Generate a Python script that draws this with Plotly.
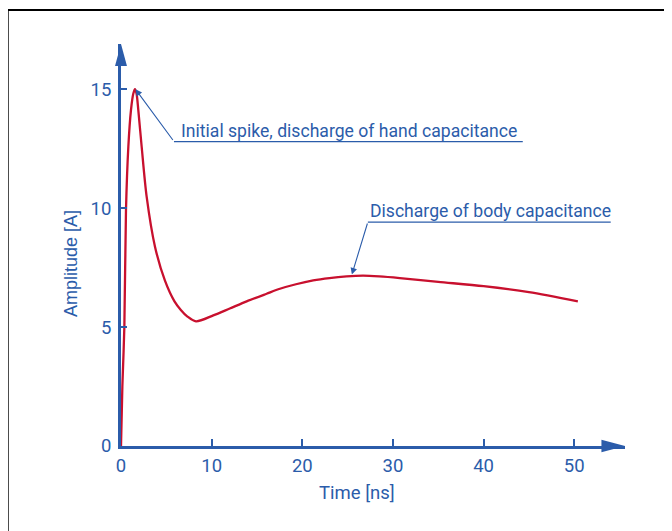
import plotly.graph_objects as go

# ---- data ----
time_ns = [0, 0.15, 0.37, 0.55, 0.81, 1.1, 1.36, 1.54, 1.72, 1.91, 2.28, 2.83, 3.75, 4.85, 5.9,
           6.6, 7.3, 8.27, 10.18, 12.0, 13.86, 16.06, 17.53, 19.3, 21.2, 23.0, 24.88, 26.7, 28.5,
           30.76, 35, 40, 45, 50.4]
amplitude_a = [0, 2.5, 5.0, 9.92, 12.58, 14.12, 14.82, 15.0, 14.8, 14.12, 12.58, 10.48, 8.38, 6.95,
               6.08, 5.72, 5.45, 5.24, 5.49, 5.78, 6.08, 6.4, 6.61, 6.8, 6.96, 7.06, 7.13, 7.16,
               7.13, 7.06, 6.9, 6.72, 6.47, 6.08]
x_ticks = [0, 10, 20, 30, 40, 50]
y_ticks = [0, 5, 10, 15]
label_spike = "Initial spike, discharge of hand capacitance"
label_body = "Discharge of body capacitance"
x_title = "Time [ns]"
y_title = "Amplitude [A]"

BLUE = "#2b5caa"
RED = "#c8102e"
NARROW = "Roboto, Liberation Sans Narrow, DejaVu Sans Condensed, sans-serif"
REG = "Liberation Sans, Arial, sans-serif"

XMAX = 55.6
YMAX = 16.9
PX_X = 9.07    # px per ns (reference)
PX_Y = 23.79   # px per A (reference)
X0_PX = 121    # reference pixel of x=0
Y0_PX = 446    # reference pixel of y=0


def dx(px):
    return (px - X0_PX) / PX_X


def dy(py):
    return (Y0_PX - py) / PX_Y


fig = go.Figure()
fig.add_trace(go.Scatter(x=time_ns, y=amplitude_a, mode="lines",
                         line=dict(color=RED, width=2.3, shape="spline", smoothing=0.8),
                         hoverinfo="skip", showlegend=False))

# the page body has an 8px margin -> shift the figure margins by that amount
fig.update_layout(
    width=672, height=531,
    margin=dict(l=113, r=55, t=36, b=93),
    paper_bgcolor="white", plot_bgcolor="white",
    showlegend=False,
    xaxis=dict(range=[0, XMAX], tickvals=x_ticks, ticktext=[str(v) for v in x_ticks],
               showgrid=False, zeroline=False, showline=True, linecolor=BLUE, linewidth=3,
               ticks="inside", ticklen=7, tickwidth=2, tickcolor=BLUE,
               tickfont=dict(family=NARROW, size=18.5, color=BLUE), ticklabelstandoff=1),
    yaxis=dict(range=[0, YMAX], tickvals=y_ticks, ticktext=[str(v) for v in y_ticks],
               showgrid=False, zeroline=False, showline=True, linecolor=BLUE, linewidth=3,
               ticks="inside", ticklen=6, tickwidth=2, tickcolor=BLUE,
               tickfont=dict(family=NARROW, size=18.5, color=BLUE), ticklabelstandoff=3),
)

# axis arrowheads (paper coords so they are not clipped)
xb = 53.0 / XMAX
hy = 0.265 / YMAX
fig.add_shape(type="path", xref="paper", yref="paper",
              path=f"M {xb} {-hy} L 1 0 L {xb} {hy} Z",
              fillcolor=BLUE, line=dict(color=BLUE, width=0))
yb = 15.97 / YMAX
hx = 0.66 / XMAX
fig.add_shape(type="path", xref="paper", yref="paper",
              path=f"M {-hx} {yb} L 0 1 L {hx} {yb} Z",
              fillcolor=BLUE, line=dict(color=BLUE, width=0))

# frame
fig.add_shape(type="rect", xref="paper", yref="paper",
              x0=(7.7 - X0_PX) / 504, x1=(700 - X0_PX) / 504,
              y0=(Y0_PX - 560) / 402, y1=(Y0_PX - 10) / 402,
              line=dict(color="black", width=2), fillcolor="rgba(0,0,0,0)", layer="below")

# annotation 1: spike
u1_y = dy(141.5)
u1_x0, u1_x1 = dx(174), dx(523)
fig.add_shape(type="line", xref="x", yref="y", x0=u1_x0, x1=u1_x1, y0=u1_y, y1=u1_y,
              line=dict(color=BLUE, width=1.2))
fig.add_annotation(x=1.6, y=15.0, ax=u1_x0, ay=u1_y, axref="x", ayref="y",
                   text="", showarrow=True, arrowhead=2, arrowsize=1.2, arrowwidth=1.1,
                   arrowcolor=BLUE, standoff=0)
fig.add_annotation(x=dx(179), y=u1_y, xanchor="left", yanchor="bottom",
                   text=label_spike, showarrow=False, yshift=-1,
                   font=dict(family=NARROW, size=17.6, color=BLUE))

# annotation 2: body
u2_y = dy(222)
u2_x0, u2_x1 = dx(368), dx(611)
fig.add_shape(type="line", xref="x", yref="y", x0=u2_x0, x1=u2_x1, y0=u2_y, y1=u2_y,
              line=dict(color=BLUE, width=1.2))
fig.add_annotation(x=dx(352), y=dy(274.5), ax=u2_x0, ay=u2_y, axref="x", ayref="y",
                   text="", showarrow=True, arrowhead=2, arrowsize=1.2, arrowwidth=1.1,
                   arrowcolor=BLUE, standoff=0)
fig.add_annotation(x=dx(368), y=u2_y, xanchor="left", yanchor="bottom",
                   text=label_body, showarrow=False, yshift=-1,
                   font=dict(family=NARROW, size=17.6, color=BLUE))

# axis titles
fig.add_annotation(xref="paper", yref="paper", x=(357 - X0_PX) / 504, y=(Y0_PX - 493) / 402,
                   xanchor="center", yanchor="middle", text=x_title, showarrow=False,
                   font=dict(family=NARROW, size=18.5, color=BLUE))
fig.add_annotation(xref="paper", yref="paper", x=(71 - X0_PX) / 504, y=(Y0_PX - 264) / 402,
                   xanchor="center", yanchor="middle", text=y_title, showarrow=False,
                   textangle=-90, font=dict(family=REG, size=18, color=BLUE))

fig.write_html("out.html")
